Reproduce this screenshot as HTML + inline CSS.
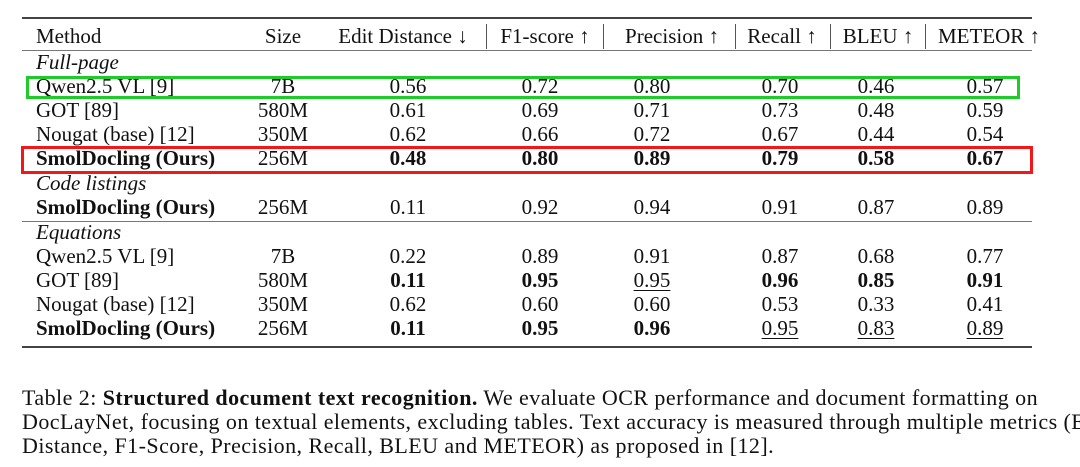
<!DOCTYPE html>
<html><head><meta charset="utf-8"><style>
body{margin:0;width:1080px;height:467px;background:#fff;position:relative;overflow:hidden;font-family:"Liberation Serif",serif;color:#111;}
.t{position:absolute;font-size:21px;line-height:24px;white-space:nowrap;}
.c{transform:translateX(-50%);}
.b{font-weight:bold}
.i{font-style:italic}
.u{text-decoration:underline;text-underline-offset:3px;text-decoration-thickness:1px}
.rule{position:absolute;left:22px;width:1010px;background:#444;}
.vs{position:absolute;top:24px;width:1px;height:25px;background:#555;}
.cap{position:absolute;left:22px;font-size:22px;letter-spacing:0.45px;line-height:24px;white-space:nowrap;}
</style></head><body>
<div class="rule" style="top:17px;height:2px"></div>
<div class="rule" style="top:50px;height:1px;background:#777"></div>
<div class="rule" style="top:172px;height:1px;background:#777"></div>
<div class="rule" style="top:221px;height:1px;background:#777"></div>
<div class="rule" style="top:346px;height:2px"></div>
<div class="vs" style="left:486px"></div>
<div class="vs" style="left:603px"></div>
<div class="vs" style="left:735px"></div>
<div class="vs" style="left:830px"></div>
<div class="vs" style="left:925px"></div>
<div id="tbl"></div>
<div style="position:absolute;left:26px;top:76px;width:988px;height:17px;border:3px solid #1ecb2a"></div>
<div style="position:absolute;left:21px;top:146px;width:1006px;height:22px;border:3px solid #f01818"></div>
<div class="cap" style="top:386px">Table 2: <b>Structured document text recognition.</b> We evaluate OCR performance and document formatting on</div>
<div class="cap" style="top:410px">DocLayNet, focusing on textual elements, excluding tables. Text accuracy is measured through multiple metrics (Edit</div>
<div class="cap" style="top:434px">Distance, F1-Score, Precision, Recall, BLEU and METEOR) as proposed in [12].</div>
<script>
const headers=["Size","Edit Distance ↓","F1-score ↑","Precision ↑","Recall ↑","BLEU ↑","METEOR ↑"];
const headX=[283,403,545,672,782,878,989];
const colX=[283,408,540,652,780,876,985];
const rows=[
 {y:74,m:"Qwen2.5 VL [9]",s:"7B",v:["0.56","0.72","0.80","0.70","0.46","0.57"]},
 {y:98,m:"GOT [89]",s:"580M",v:["0.61","0.69","0.71","0.73","0.48","0.59"]},
 {y:122,m:"Nougat (base) [12]",s:"350M",v:["0.62","0.66","0.72","0.67","0.44","0.54"]},
 {y:146,m:"SmolDocling (Ours)",s:"256M",bm:1,v:["**0.48","**0.80","**0.89","**0.79","**0.58","**0.67"]},
 {y:195,m:"SmolDocling (Ours)",s:"256M",bm:1,v:["0.11","0.92","0.94","0.91","0.87","0.89"]},
 {y:244,m:"Qwen2.5 VL [9]",s:"7B",v:["0.22","0.89","0.91","0.87","0.68","0.77"]},
 {y:268,m:"GOT [89]",s:"580M",v:["**0.11","**0.95","__0.95","**0.96","**0.85","**0.91"]},
 {y:292,m:"Nougat (base) [12]",s:"350M",v:["0.62","0.60","0.60","0.53","0.33","0.41"]},
 {y:316,m:"SmolDocling (Ours)",s:"256M",bm:1,v:["**0.11","**0.95","**0.96","__0.95","__0.83","__0.89"]}
];
const sections=[{y:50,t:"Full-page"},{y:171,t:"Code listings"},{y:220,t:"Equations"}];
const T=document.getElementById('tbl');
function add(txt,x,y,cls,name){const d=document.createElement('div');d.className='t '+cls;d.style.left=x+'px';d.style.top=y+'px';d.textContent=txt;


T.appendChild(d);}
add("Method",36,24,"","header-method");
headers.forEach((h,i)=>add(h,headX[i],24,"c","header-"+i));
sections.forEach(s=>add(s.t,36,s.y,"i","section-label"));
rows.forEach(r=>{
 add(r.m,36,r.y,r.bm?"b":"","method-name");
 add(r.s,colX[0],r.y,"c","size-cell");
 r.v.forEach((v,i)=>{let cls="c";if(v.startsWith("**")){cls+=" b";v=v.slice(2);}else if(v.startsWith("__")){cls+=" u";v=v.slice(2);}add(v,colX[i+1],r.y,cls,"value-cell");});
});
</script>
</body></html>
